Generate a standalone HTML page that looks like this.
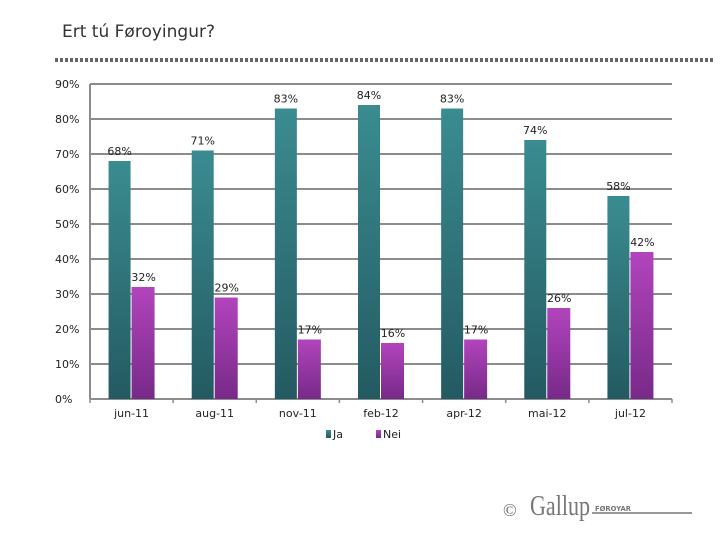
<!DOCTYPE html>
<html><head><meta charset="utf-8"><style>
body{margin:0;background:#fff;width:720px;height:540px;overflow:hidden;font-family:"DejaVu Sans","Liberation Sans",sans-serif}
</style></head><body>
<svg width="720" height="540" xmlns="http://www.w3.org/2000/svg">
<defs>
<linearGradient id="gJa" x1="0" y1="0" x2="0" y2="1"><stop offset="0" stop-color="#3a8c90"/><stop offset="1" stop-color="#245a62"/></linearGradient>
<linearGradient id="gNei" x1="0" y1="0" x2="0" y2="1"><stop offset="0" stop-color="#b244bc"/><stop offset="1" stop-color="#772a88"/></linearGradient>
</defs>
<text x="62" y="37" font-size="17" fill="#333">Ert tú Føroyingur?</text>
<line x1="55" y1="60" x2="715" y2="60" stroke="#666" stroke-width="4" stroke-dasharray="3,2"/>
<g id="grid"></g><g id="bars"></g><g id="labels"></g>
<g font-size="11" fill="#222">
<rect x="326" y="430" width="5" height="8" fill="url(#gJa)"/>
<text x="333" y="438">Ja</text>
<rect x="376" y="430" width="5" height="8" fill="url(#gNei)"/>
<text x="383" y="438">Nei</text>
</g>
<g>
<text x="503" y="516" font-size="18" fill="#666" font-family="Liberation Serif,serif">©</text>
<text x="530" y="515" font-size="28" fill="#777" font-family="Liberation Serif,serif" textLength="60" lengthAdjust="spacingAndGlyphs">Gallup</text>
<text x="595" y="511" font-size="7" font-weight="bold" fill="#777" textLength="36" lengthAdjust="spacingAndGlyphs">FØROYAR</text>
<line x1="592" y1="513" x2="692" y2="513" stroke="#777" stroke-width="1.5"/>
</g>
</svg>
<script>
const categories=["jun-11","aug-11","nov-11","feb-12","apr-12","mai-12","jul-12"];
const ja=[68,71,83,84,83,74,58];
const nei=[32,29,17,16,17,26,42];
const ticks=[0,10,20,30,40,50,60,70,80,90];
const NS="http://www.w3.org/2000/svg";
const x0=90,x1=672,y0=399,yTop=84,ymax=90;
const bw=(x1-x0)/categories.length;
const y=v=>y0-(v/ymax)*(y0-yTop);
function mk(tag,attrs,parent){const e=document.createElementNS(NS,tag);for(const k in attrs)e.setAttribute(k,attrs[k]);parent.appendChild(e);return e;}
const grid=document.getElementById('grid'),bars=document.getElementById('bars'),labels=document.getElementById('labels');
ticks.forEach(t=>{
 const l=mk('line',{x1:x0,x2:x1,y1:y(t),y2:y(t),stroke:'#8c8c8c','stroke-width':2},grid);
 
 
 const tx=mk('text',{x:55,y:y(t)+4,'font-size':11,fill:'#222'},grid);tx.textContent=t+'%';
 
 
});
const ax=mk('line',{x1:x0,x2:x0,y1:yTop,y2:y0,stroke:'#8c8c8c','stroke-width':2},grid);


for(let i=0;i<=categories.length;i++){const t=mk('line',{x1:x0+i*bw,x2:x0+i*bw,y1:y0,y2:y0+4,stroke:'#8c8c8c','stroke-width':1.5},grid);
 
 }
categories.forEach((c,i)=>{
 const cx=x0+(i+0.5)*bw;
 const a=mk('rect',{x:cx-23,y:y(ja[i]),width:22,height:y0-y(ja[i]),fill:'url(#gJa)'},bars);
 
 
 const b=mk('rect',{x:cx,y:y(nei[i]),width:23,height:y0-y(nei[i]),fill:'url(#gNei)'},bars);
 
 
 const la=mk('text',{x:cx-12,y:y(ja[i])-6,'font-size':11,fill:'#222','text-anchor':'middle'},labels);la.textContent=ja[i]+'%';
 
 
 const lb=mk('text',{x:cx+12,y:y(nei[i])-6,'font-size':11,fill:'#222','text-anchor':'middle'},labels);lb.textContent=nei[i]+'%';
 
 
 const xl=mk('text',{x:cx,y:417,'font-size':11,fill:'#222','text-anchor':'middle'},labels);xl.textContent=c;
 
 
});
</script>
</body></html>
